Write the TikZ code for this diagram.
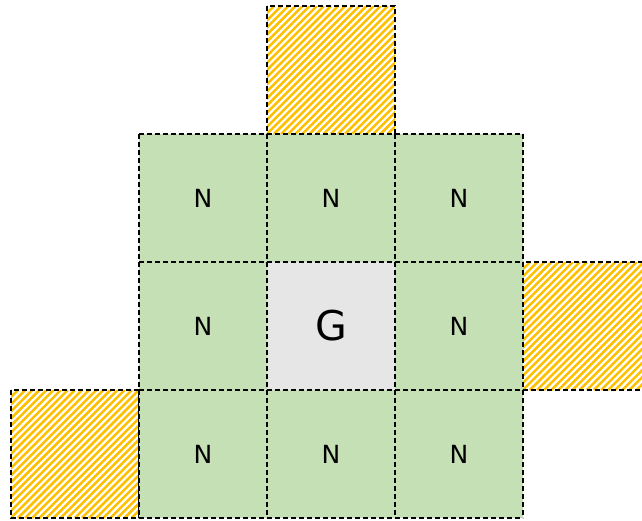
\documentclass[tikz,border=0pt]{standalone}
\usepackage{fontspec}
\setmainfont{DejaVu Sans}
\definecolor{ink}{HTML}{000000}
\definecolor{greenA}{HTML}{C5E0B4}
\definecolor{grayA}{HTML}{E6E6E6}
\definecolor{stripeY}{HTML}{FFC000}
\tikzset{
  cell/.style={minimum size=128pt, inner sep=0pt, outer sep=0pt},
  nbcell/.style={cell, fill=greenA, font=\fontsize{25}{27}\selectfont, text=ink},
  gcell/.style={cell, fill=grayA, font=\fontsize{41}{43}\selectfont, text=ink},
  gridline/.style={draw=ink, dash pattern=on 5pt off 3pt, line width=1.2pt},
  stripe/.style={draw=stripeY, line width=2.5pt}
}
% stripes inside a named hatch cell
\newcommand{\hatchfill}[1]{%
  \begin{scope}
    \clip (#1.north west) rectangle (#1.south east);
    \foreach \t in {-135,-127.9,...,135}
      \draw[stripe] ([xshift=\t pt]#1.south west) -- ++(128,-128);
  \end{scope}
  \draw[gridline] (#1.north west) rectangle (#1.south east);
}

\begin{document}
\begin{tikzpicture}[x=1pt,y=-1pt]
\useasboundingbox (0,0) rectangle (642,520);

% hatched neighbours outside the grid
\node[cell] (htop) at (331,70) {};
\node[cell] (hright) at (587,326) {};
\node[cell] (hleft) at (75,454) {};
\hatchfill{htop}
\hatchfill{hright}
\hatchfill{hleft}

% neighbour grid
\node[nbcell] (ntl) at (203,198) {N};
\node[nbcell] (ntc) at (331,198) {N};
\node[nbcell] (ntr) at (459,198) {N};
\node[nbcell] (nml) at (203,326) {N};
\node[gcell]  (gc)  at (331,326) {G};
\node[nbcell] (nmr) at (459,326) {N};
\node[nbcell] (nbl) at (203,454) {N};
\node[nbcell] (nbc) at (331,454) {N};
\node[nbcell] (nbr) at (459,454) {N};

% dashed grid lines
\draw[gridline] (ntl.north west) -- (ntr.north east);
\draw[gridline] (ntl.south west) -- (ntr.south east);
\draw[gridline] (nbl.north west) -- (nbr.north east);
\draw[gridline] (nbl.south west) -- (nbr.south east);
\draw[gridline] (ntl.north west) -- (nbl.south west);
\draw[gridline] (ntc.north west) -- (nbc.south west);
\draw[gridline] (ntc.north east) -- (nbc.south east);
\draw[gridline] (ntr.north east) -- (nbr.south east);

\end{tikzpicture}
\end{document}
